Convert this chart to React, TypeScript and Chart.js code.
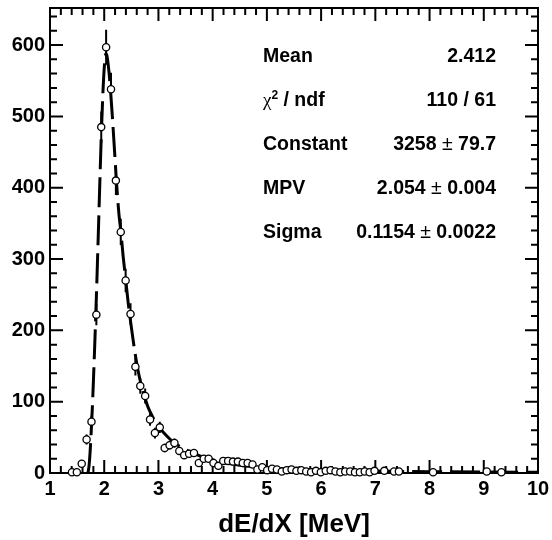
import React, { useEffect, useRef } from 'react';
import { Chart, registerables } from 'chart.js';

Chart.register(...registerables);

// histogram bin centres (MeV) and counts (only non-empty bins are drawn)
const binCenters = [
  1.405, 1.495, 1.585, 1.675, 1.765, 1.855, 1.945, 2.035, 2.125, 2.215,
  2.305, 2.395, 2.485, 2.575, 2.665, 2.755, 2.845, 2.935, 3.025, 3.115,
  3.205, 3.295, 3.385, 3.475, 3.565, 3.655, 3.745, 3.835, 3.925, 4.015,
  4.105, 4.195, 4.285, 4.375, 4.465, 4.555, 4.645, 4.735, 4.825, 4.915,
  5.005, 5.095, 5.185, 5.275, 5.365, 5.455, 5.545, 5.635, 5.725, 5.815,
  5.905, 5.995, 6.085, 6.175, 6.265, 6.355, 6.445, 6.535, 6.625, 6.715,
  6.805, 6.895, 6.985, 7.165, 7.345, 7.435, 8.065, 9.055, 9.325,
];
const counts = [
  1, 1, 13, 47, 72, 222, 485, 597, 538, 410,
  338, 270, 223, 149, 122, 108, 75, 56, 64, 35,
  39, 42, 31, 25, 27, 28, 14, 20, 20, 14,
  10, 17, 17, 16, 16, 14, 14, 12, 5, 8,
  4, 6, 5, 2, 4, 5, 3, 4, 2, 1,
  3, 1, 3, 4, 2, 1, 2, 2, 1, 1,
  2, 1, 3, 3, 2, 2, 1, 2, 1,
];
const countErrors = [
  1, 1, 3.6, 6.9, 8.5, 14.9, 22.0, 24.4, 23.2, 20.2,
  18.4, 16.4, 14.9, 12.2, 11.0, 10.4, 8.7, 7.5, 8.0, 5.9,
  6.2, 6.5, 5.6, 5.0, 5.2, 5.3, 3.7, 4.5, 4.5, 3.7,
  3.2, 4.1, 4.1, 4.0, 4.0, 3.7, 3.7, 3.5, 2.2, 2.8,
  2.0, 2.4, 2.2, 1.4, 2.0, 2.2, 1.7, 2.0, 1.4, 1.0,
  1.7, 1.0, 1.7, 2.0, 1.4, 1.0, 1.4, 1.4, 1.0, 1.0,
  1.4, 1.0, 1.7, 1.7, 1.4, 1.4, 1.0, 1.4, 1.0,
];

// Landau fit curve
const fitX = [
  1.70, 1.72, 1.74, 1.76, 1.78, 1.80, 1.83, 1.86, 1.89, 1.92,
  1.95, 1.98, 2.01, 2.03, 2.05, 2.08, 2.11, 2.15, 2.19, 2.23,
  2.27, 2.305, 2.35, 2.395, 2.44, 2.485, 2.53, 2.575, 2.62, 2.665,
  2.71, 2.755, 2.80, 2.845, 2.935, 3.025, 3.115, 3.205, 3.295, 3.40,
  3.50, 3.65, 3.80, 4.00, 4.25, 4.50, 4.75, 5.00, 5.50, 6.00,
  6.50, 7.00, 8.00, 9.00, 10.00,
];
const fitY = [
  0, 10, 30, 58, 90, 128, 190, 258, 333, 410,
  482, 540, 578, 588, 585, 568, 543, 500, 452, 404,
  364, 340, 303, 272, 240, 213, 188, 165, 145, 129,
  115, 104, 94, 86, 73, 63, 55, 48, 42, 37,
  33, 27.5, 23, 18.5, 14, 11, 9, 7.5, 5.5, 4.2,
  3.3, 2.7, 1.9, 1.4, 1.1,
];

const xTickValues = [1, 2, 3, 4, 5, 6, 7, 8, 9, 10];
const yTickValues = [0, 100, 200, 300, 400, 500, 600];
const xMinorStep = 0.2;
const yMinorStep = 20;

const statLabels = ['Mean', 'χ2 / ndf', 'Constant', 'MPV', 'Sigma'];
const statValues = ['2.412', '110 / 61', '3258 ± 79.7', '2.054 ± 0.004', '0.1154 ± 0.0022'];

const SANS = '"Liberation Sans", Arial, Helvetica, sans-serif';
const SERIF = '"Liberation Serif", "DejaVu Serif", serif';

const framePlugin = {
  id: 'rootFrame',
  beforeDatasetsDraw(chart: any) {
    const { ctx, chartArea: a, scales } = chart;
    const x = scales.x;
    const y = scales.y;
    ctx.save();
    ctx.strokeStyle = '#000';
    ctx.lineWidth = 2;
    ctx.strokeRect(a.left, a.top, a.right - a.left, a.bottom - a.top);
    ctx.beginPath();
    const majorLen = 13;
    const minorLen = 7;
    for (let v = x.min; v <= x.max + 1e-9; v += xMinorStep) {
      const r = Math.round(v * 1000) / 1000;
      const isMajor = Math.abs(r - Math.round(r)) < 1e-6;
      const len = isMajor ? majorLen : minorLen;
      const px = x.getPixelForValue(r);
      ctx.moveTo(px, a.bottom);
      ctx.lineTo(px, a.bottom - len);
      ctx.moveTo(px, a.top);
      ctx.lineTo(px, a.top + len);
    }
    for (let v = y.min; v <= y.max + 1e-9; v += yMinorStep) {
      const isMajor = Math.abs(v % 100) < 1e-6;
      const len = isMajor ? majorLen : minorLen;
      const py = y.getPixelForValue(v);
      ctx.moveTo(a.left, py);
      ctx.lineTo(a.left + len, py);
      ctx.moveTo(a.right, py);
      ctx.lineTo(a.right - len, py);
    }
    ctx.stroke();
    ctx.restore();
  },
};

const errorBarPlugin = {
  id: 'errorBars',
  beforeDatasetDraw(chart: any, args: any) {
    if (args.index !== 1) return;
    const { ctx, scales } = chart;
    const x = scales.x;
    const y = scales.y;
    ctx.save();
    ctx.strokeStyle = '#000';
    ctx.lineWidth = 2;
    ctx.beginPath();
    binCenters.forEach((bx, i) => {
      const px = x.getPixelForValue(bx);
      ctx.moveTo(px, y.getPixelForValue(counts[i] - countErrors[i]));
      ctx.lineTo(px, y.getPixelForValue(counts[i] + countErrors[i]));
    });
    ctx.stroke();
    ctx.restore();
  },
};

type Seg = { text: string; font: string; dy?: number };

function drawSegs(ctx: CanvasRenderingContext2D, segs: Seg[], x: number, yBase: number, align: 'left' | 'right') {
  let total = 0;
  const widths = segs.map((s) => {
    ctx.font = s.font;
    const w = ctx.measureText(s.text).width;
    total += w;
    return w;
  });
  let cx = align === 'left' ? x : x - total;
  segs.forEach((s, i) => {
    ctx.font = s.font;
    ctx.fillText(s.text, cx, yBase - (s.dy || 0));
    cx += widths[i];
  });
}

const statsPlugin = {
  id: 'statsBox',
  afterDraw(chart: any) {
    const { ctx, chartArea: a } = chart;
    const bold = `bold 19.5px ${SANS}`;
    const plain = `19.5px ${SANS}`;
    const labelX = a.left + 213;
    const valueX = a.right - 42;
    ctx.save();
    ctx.fillStyle = '#000';
    ctx.textBaseline = 'alphabetic';
    ctx.textAlign = 'left';
    statLabels.forEach((label, i) => {
      const yb = a.top + 54 + i * 44;
      if (label.startsWith('χ')) {
        drawSegs(
          ctx,
          [
            { text: 'χ', font: `19px ${SERIF}` },
            { text: '2', font: `bold 12px ${SANS}`, dy: 7 },
            { text: label.slice(2), font: bold },
          ],
          labelX,
          yb,
          'left'
        );
      } else {
        drawSegs(ctx, [{ text: label, font: bold }], labelX, yb, 'left');
      }
      const val = statValues[i];
      const parts = val.split('±');
      if (parts.length === 2) {
        drawSegs(
          ctx,
          [
            { text: parts[0], font: bold },
            { text: '±', font: plain },
            { text: parts[1], font: bold },
          ],
          valueX,
          yb,
          'right'
        );
      } else {
        drawSegs(ctx, [{ text: val, font: bold }], valueX, yb, 'right');
      }
    });
    ctx.restore();
  },
};

export default function App() {
  const canvasRef = useRef<HTMLCanvasElement | null>(null);

  useEffect(() => {
    document.body.style.margin = '0';
    const canvas = canvasRef.current;
    if (!canvas) return;
    const chart = new Chart(canvas, {
      type: 'scatter',
      data: {
        datasets: [
          {
            type: 'line',
            label: 'Landau fit',
            data: fitX.map((x, i) => ({ x, y: fitY[i] })),
            borderColor: '#000',
            borderWidth: 3,
            borderDash: [30, 8],
            pointRadius: 0,
            cubicInterpolationMode: 'monotone',
            fill: false,
            order: 2,
          } as any,
          {
            type: 'scatter',
            label: 'data',
            data: binCenters.map((x, i) => ({ x, y: counts[i] })),
            pointRadius: 3.6,
            pointBorderWidth: 1.3,
            pointBackgroundColor: '#fff',
            pointBorderColor: '#000',
            showLine: false,
            order: 1,
            clip: 6,
          } as any,
        ],
      },
      options: {
        animation: false,
        responsive: false,
        events: [],
        layout: { padding: { top: 8, right: 14, left: 0, bottom: 0 } },
        plugins: {
          legend: { display: false },
          tooltip: { enabled: false },
          title: { display: false },
        },
        scales: {
          x: {
            type: 'linear',
            min: 1,
            max: 10,
            grid: { display: false, drawTicks: false },
            border: { display: false },
            afterBuildTicks: (s: any) => {
              s.ticks = xTickValues.map((v) => ({ value: v }));
            },
            afterFit: (s: any) => {
              s.height = 67;
              s.paddingLeft = 0;
              s.paddingRight = 0;
            },
            ticks: {
              color: '#000',
              padding: 4,
              maxRotation: 0,
              autoSkip: false,
              font: { family: SANS, size: 20, weight: 'bold' },
              callback: (v: any) => String(v),
            },
            title: {
              display: true,
              text: 'dE/dX [MeV]',
              color: '#000',
              padding: { top: 0, bottom: 0 },
              font: { family: SANS, size: 26, weight: 'bold' },
            },
          },
          y: {
            type: 'linear',
            min: 0,
            max: 652,
            grid: { display: false, drawTicks: false },
            border: { display: false },
            afterBuildTicks: (s: any) => {
              s.ticks = yTickValues.map((v) => ({ value: v }));
            },
            afterFit: (s: any) => {
              s.width = 50;
              s.paddingTop = 0;
              s.paddingBottom = 0;
            },
            ticks: {
              color: '#000',
              padding: 5,
              autoSkip: false,
              font: { family: SANS, size: 20, weight: 'bold' },
              callback: (v: any) => String(v),
            },
          },
        },
      } as any,
      plugins: [framePlugin, errorBarPlugin, statsPlugin],
    });
    return () => chart.destroy();
  }, []);

  return (
    <div style={{ position: 'fixed', left: 0, top: 0, width: 552, height: 540, background: '#fff' }}>
      <canvas ref={canvasRef} width={552} height={540} style={{ width: 552, height: 540, display: 'block' }} />
    </div>
  );
}
